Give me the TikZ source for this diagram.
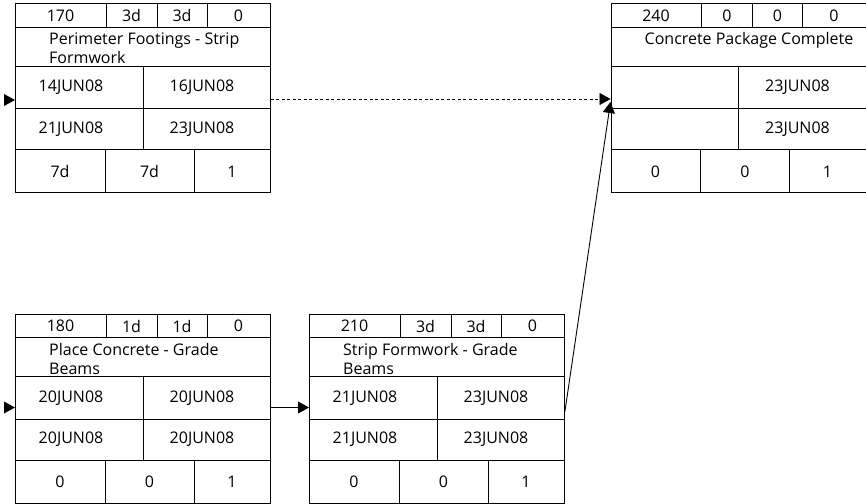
\documentclass[tikz,border=0pt]{standalone}
\usepackage{fontspec}
\setmainfont{Open Sans}
\usetikzlibrary{arrows.meta}

\tikzset{
  rule/.style={line width=0.9pt},
  actbox/.style={rule, draw, minimum width=255pt, minimum height=189pt, inner sep=0pt},
  cell/.style={inner sep=0pt, font=\fontsize{16}{19}\selectfont},
  link/.style={rule, -{Triangle[length=11pt,width=12pt]}},
}

% one activity box: #1 name, #2 top left corner, #3 top row,
% #4 title, #5 dates (es,ef,ls,lf), #6 bottom row
\newcommand{\activity}[6]{%
  \node[actbox, anchor=north west] (#1) at (#2) {};
  % row rules
  \foreach \y in {24,63,105.5,146.5}
    \draw[rule] ([yshift=-\y pt]#1.north west) -- ([yshift=-\y pt]#1.north east);
  % column rules
  \foreach \x in {91,142,192}
    \draw[rule] ([xshift=\x pt]#1.north west) -- ++(0,24);
  \draw[rule] ([xshift=128pt,yshift=-63pt]#1.north west) -- ++(0,83.5);
  \foreach \x in {90,179}
    \draw[rule] ([xshift=\x pt,yshift=-146.5pt]#1.north west) -- ++(0,42.5);
  % top row
  \foreach \txt [count=\i] in {#3} {
    \pgfmathsetmacro\cx{{45.5,116.5,167,223.5}[\i-1]}
    \node[cell] (#1-top\i) at ([xshift=\cx pt,yshift=-12.5pt]#1.north west) {\txt};
  }
  % title
  \node[cell, align=left, anchor=north west] (#1-title)
    at ([xshift=34pt,yshift=-29.5pt]#1.north west) {#4};
  % dates
  \foreach \txt [count=\i] in {#5} {
    \pgfmathsetmacro\cx{{56,187,56,187}[\i-1]}
    \pgfmathsetmacro\cy{{84.5,84.5,126,126}[\i-1]}
    \node[cell] (#1-date\i) at ([xshift=\cx pt,yshift=-\cy pt]#1.north west) {\txt};
  }
  % bottom row
  \foreach \txt [count=\i] in {#6} {
    \pgfmathsetmacro\cx{{45,134.5,217}[\i-1]}
    \node[cell] (#1-bot\i) at ([xshift=\cx pt,yshift=-168.5pt]#1.north west) {\txt};
  }
}

\begin{document}
\begin{tikzpicture}[x=1pt,y=-1pt]
  \useasboundingbox (0,0) rectangle (866,503);

  % Activities
  \activity{strip}{15,3}{170,3d,3d,0}{Perimeter Footings - Strip\\Formwork}
    {14JUN08,16JUN08,21JUN08,23JUN08}{7d,7d,1}
  \activity{place}{15,313.5}{180,1d,1d,0}{Place Concrete - Grade\\Beams}
    {20JUN08,20JUN08,20JUN08,20JUN08}{0,0,1}
  \activity{beams}{309,313.5}{210,3d,3d,0}{Strip Formwork - Grade\\Beams}
    {21JUN08,23JUN08,21JUN08,23JUN08}{0,0,1}
  \activity{done}{610.5,3}{240,0,0,0}{Concrete Package Complete}
    {,23JUN08,,23JUN08}{0,0,1}

  % Entry marks
  \fill ([yshift=-97pt]strip.north west) -- ++(-11,-6) -- ++(0,12) -- cycle;
  \fill ([yshift=-94pt]place.north west) -- ++(-11,-6) -- ++(0,12) -- cycle;

  % Links
  \draw[link, dash pattern=on 3pt off 2.5pt] ([yshift=-96pt]strip.north east) -- ([yshift=-96pt]done.north west);
  \draw[link] ([yshift=-94pt]place.north east) -- ([yshift=-94pt]beams.north west);
  \draw[link] ([yshift=-98pt]beams.north east) -- ([yshift=-99pt]done.north west);
\end{tikzpicture}
\end{document}
